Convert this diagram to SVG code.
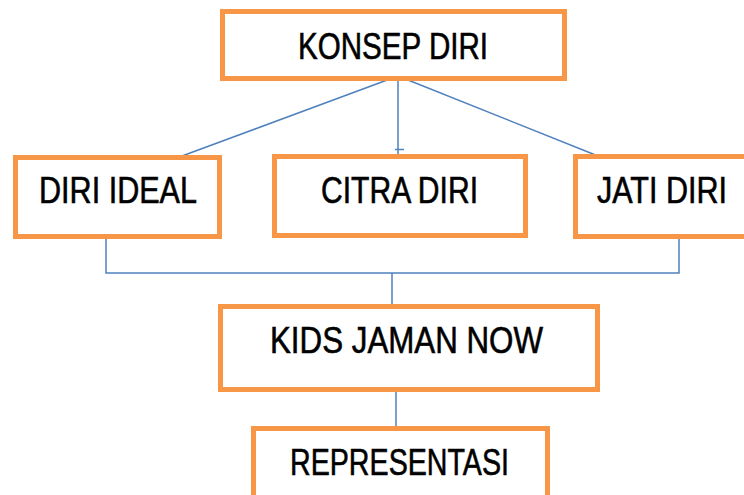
<svg xmlns="http://www.w3.org/2000/svg" width="744" height="495" viewBox="0 0 744 495">
<style>
.box{fill:#fff;stroke:#F79646;stroke-width:5}
.lbl{font-family:"Liberation Sans",Arial,sans-serif;font-size:37px;fill:#000;stroke:#000;stroke-width:0.6}
.con{stroke:#4F81BD;stroke-width:1.5;fill:none}
</style>
<rect width="744" height="495" fill="#fff"/>
<g id="connectors">
<line class="con" x1="398" y1="76" x2="182" y2="156"/>
<line class="con" x1="398" y1="76" x2="598" y2="156"/>
<line class="con" x1="398" y1="76" x2="398" y2="156"/>
<line class="con" x1="395" y1="149.5" x2="404" y2="149.5"/>
<polyline class="con" points="106,238 106,273 679,273 679,238"/>
<line class="con" x1="392" y1="273" x2="392" y2="305"/>
<line class="con" x1="396" y1="391" x2="396" y2="427"/>
</g>
<g id="konsep-diri">
<rect class="box" x="222.5" y="11.5" width="342" height="67"/>
<text class="lbl" x="298" y="59" textLength="190" lengthAdjust="spacingAndGlyphs">KONSEP DIRI</text>
</g>
<g id="diri-ideal">
<rect class="box" x="15.5" y="157.5" width="204" height="79"/>
<text class="lbl" x="39" y="203" textLength="158" lengthAdjust="spacingAndGlyphs">DIRI IDEAL</text>
</g>
<g id="citra-diri">
<rect class="box" x="274.5" y="156.5" width="251" height="79"/>
<text class="lbl" x="321" y="203" textLength="157" lengthAdjust="spacingAndGlyphs">CITRA DIRI</text>
</g>
<g id="jati-diri">
<rect x="575.5" y="156.5" width="168.5" height="80" fill="#fff"/>
<path d="M744,156.5 H575.5 V236.5 H744" fill="none" stroke="#F79646" stroke-width="5"/>
<text class="lbl" x="597" y="203" textLength="130" lengthAdjust="spacingAndGlyphs">JATI DIRI</text>
</g>
<g id="kids-jaman-now">
<rect class="box" x="220.5" y="306.5" width="377" height="83"/>
<text class="lbl" x="270" y="353" textLength="273" lengthAdjust="spacingAndGlyphs">KIDS JAMAN NOW</text>
</g>
<g id="representasi">
<rect x="253.5" y="428.5" width="294" height="66.5" fill="#fff"/>
<path d="M253.5,495 V428.5 H547.5 V495" fill="none" stroke="#F79646" stroke-width="5"/>
<text class="lbl" x="290" y="475" textLength="219" lengthAdjust="spacingAndGlyphs">REPRESENTASI</text>
</g>
</svg>
